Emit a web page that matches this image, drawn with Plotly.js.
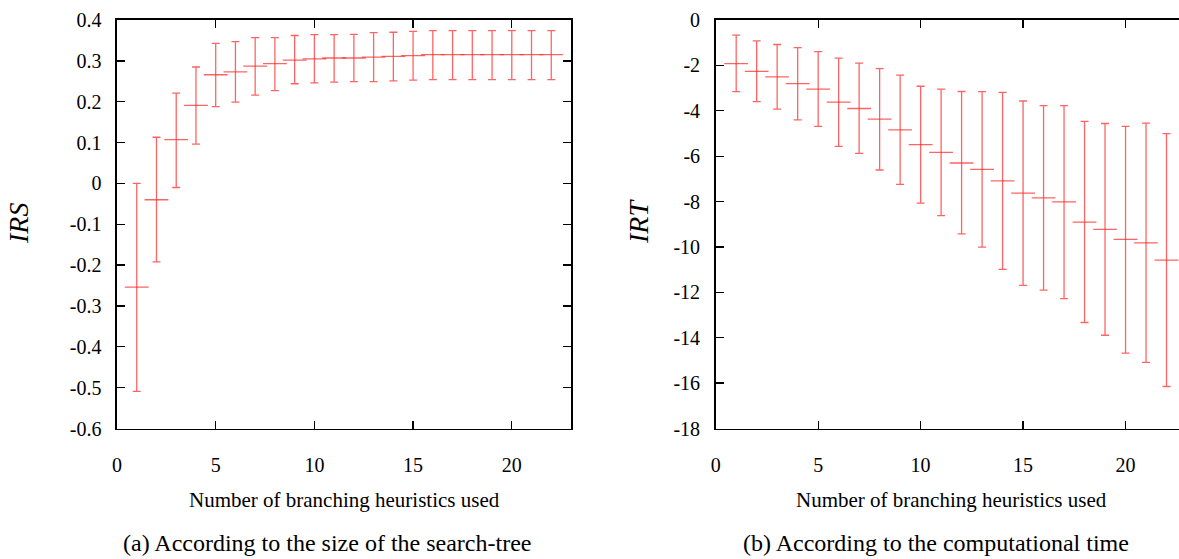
<!DOCTYPE html>
<html>
<head>
<meta charset="utf-8">
<script src="https://cdn.plot.ly/plotly-3.0.1.min.js"></script>
<style>
html, body { margin: 0; padding: 0; background: #fff; overflow: hidden; }
#chart { width: 1195px; height: 559px; }
</style>
</head>
<body>
<div id="chart"></div>
<script>
// Number of branching heuristics used
const heuristics = [1,2,3,4,5,6,7,8,9,10,11,12,13,14,15,16,17,18,19,20,21,22];

// (a) IRS: mean and error (up / down)
const irsMean = [-0.254,-0.040,0.107,0.191,0.266,0.273,0.287,0.293,0.302,0.305,0.307,0.307,0.309,0.311,0.313,0.315,0.315,0.315,0.315,0.315,0.315,0.315];
const irsErrUp = [0.254,0.153,0.114,0.094,0.077,0.074,0.070,0.064,0.060,0.059,0.057,0.058,0.060,0.059,0.059,0.059,0.059,0.059,0.059,0.059,0.059,0.059];
const irsErrDown = [0.255,0.152,0.117,0.095,0.078,0.074,0.071,0.066,0.058,0.059,0.059,0.058,0.060,0.060,0.060,0.061,0.061,0.061,0.061,0.061,0.061,0.061];

// (b) IRT: mean and error (up / down)
const irtMean = [-1.92,-2.26,-2.51,-2.80,-3.05,-3.62,-3.90,-4.37,-4.84,-5.49,-5.83,-6.30,-6.58,-7.09,-7.63,-7.84,-8.01,-8.91,-9.23,-9.67,-9.82,-10.58];
const irtErrUp = [1.25,1.34,1.43,1.58,1.66,1.94,2.00,2.23,2.41,2.57,2.78,3.15,3.42,3.90,4.06,4.07,4.24,4.44,4.67,4.98,5.28,5.57];
const irtErrDown = [1.24,1.34,1.42,1.60,1.64,1.95,1.98,2.24,2.40,2.58,2.79,3.12,3.43,3.90,4.06,4.06,4.27,4.42,4.66,5.01,5.27,5.57];

// Tick labels
const xTicks = [0,5,10,15,20];
const yTicksA = [-0.6,-0.5,-0.4,-0.3,-0.2,-0.1,0,0.1,0.2,0.3,0.4];
const yTickTextA = ['-0.6','-0.5','-0.4','-0.3','-0.2','-0.1','0','0.1','0.2','0.3','0.4'];
const yTicksB = [-18,-16,-14,-12,-10,-8,-6,-4,-2,0];
const yTickTextB = ['-18','-16','-14','-12','-10','-8','-6','-4','-2','0'];

const xTitle = 'Number of branching heuristics used';
const captionA = '(a) According to the size of the search-tree';
const captionB = '(b) According to the computational time';
const yTitleA = 'IRS';
const yTitleB = 'IRT';

const red = 'rgba(255,40,40,0.72)';
const serif = "'Liberation Serif', 'Times New Roman', serif";

function series(y, up, down, xa, ya) {
  return {
    type: 'scatter', mode: 'markers',
    x: heuristics, y: y, xaxis: xa, yaxis: ya,
    marker: { symbol: 'line-ew', size: 17, color: red, line: { color: red, width: 1.3 } },
    error_y: { type: 'data', symmetric: false, array: up, arrayminus: down,
               color: red, thickness: 1.3, width: 4 },
    showlegend: false, hoverinfo: 'x+y'
  };
}

const W = 1195, H = 559;
const yDom = [(H - 428.5) / H, (H - 20) / H];

function xAxis(domain, anchor) {
  return {
    domain: domain, anchor: anchor, range: [0, 23],
    tickvals: xTicks, ticktext: xTicks.map(String),
    ticks: 'inside', ticklen: 8, tickwidth: 1.3, tickcolor: '#000',
    mirror: 'ticks', showline: true, linecolor: '#000', linewidth: 1.6,
    showgrid: false, zeroline: false,
    tickfont: { family: serif, size: 20, color: '#000' },
    ticklabelstandoff: 18
  };
}
function yAxis(domain, anchor, range, vals, text) {
  return {
    domain: domain, anchor: anchor, range: range,
    tickvals: vals, ticktext: text,
    ticks: 'inside', ticklen: 8, tickwidth: 1.3, tickcolor: '#000',
    mirror: 'ticks', showline: true, linecolor: '#000', linewidth: 1.6,
    showgrid: false, zeroline: false,
    tickfont: { family: serif, size: 20, color: '#000' },
    ticklabelstandoff: 10
  };
}

const data = [
  series(irsMean, irsErrUp, irsErrDown, 'x', 'y'),
  series(irtMean, irtErrUp, irtErrDown, 'x2', 'y2')
];

const layout = {
  width: W, height: H,
  margin: { l: 0, r: 0, t: 0, b: 0 },
  paper_bgcolor: '#fff', plot_bgcolor: '#fff',
  font: { family: serif },
  xaxis: xAxis([117 / W, 571 / W], 'y'),
  yaxis: yAxis(yDom, 'x', [-0.6, 0.4], yTicksA, yTickTextA),
  xaxis2: xAxis([715.7 / W, 1187 / W], 'y2'),
  yaxis2: yAxis(yDom, 'x2', [-18, 0], yTicksB, yTickTextB),
  annotations: [
    { text: xTitle, xref: 'paper', yref: 'paper', x: 344 / W, y: 1 - 500 / H,
      xanchor: 'center', yanchor: 'middle', showarrow: false,
      font: { family: serif, size: 21, color: '#000' } },
    { text: xTitle, xref: 'paper', yref: 'paper', x: 951 / W, y: 1 - 500 / H,
      xanchor: 'center', yanchor: 'middle', showarrow: false,
      font: { family: serif, size: 21, color: '#000' } },
    { text: captionA, xref: 'paper', yref: 'paper', x: 327 / W, y: 1 - 543 / H,
      xanchor: 'center', yanchor: 'middle', showarrow: false,
      font: { family: serif, size: 24, color: '#000' } },
    { text: captionB, xref: 'paper', yref: 'paper', x: 936 / W, y: 1 - 543 / H,
      xanchor: 'center', yanchor: 'middle', showarrow: false,
      font: { family: serif, size: 24, color: '#000' } },
    { text: yTitleA, xref: 'paper', yref: 'paper', x: 19 / W, y: 1 - 224 / H,
      xanchor: 'center', yanchor: 'middle', showarrow: false, textangle: -90,
      font: { family: serif, size: 28, color: '#000', style: 'italic' } },
    { text: yTitleB, xref: 'paper', yref: 'paper', x: 639 / W, y: 1 - 222 / H,
      xanchor: 'center', yanchor: 'middle', showarrow: false, textangle: -90,
      font: { family: serif, size: 28, color: '#000', style: 'italic' } }
  ]
};

Plotly.newPlot('chart', data, layout, { staticPlot: true, displayModeBar: false });
</script>
</body>
</html>
